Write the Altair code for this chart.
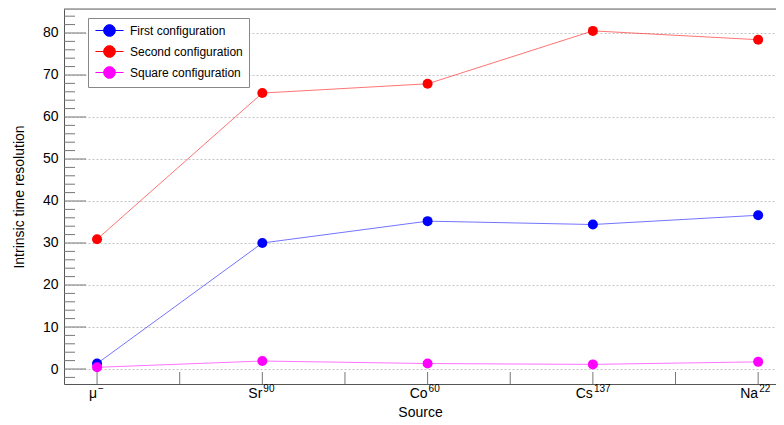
import altair as alt
import pandas as pd

source_base = ["μ", "Sr", "Co", "Cs", "Na"]
source_sup = ["−", "90", "60", "137", "22"]
series_names = ["First configuration", "Second configuration", "Square configuration"]
first = [1.3, 30.0, 35.2, 34.4, 36.6]
second = [30.9, 65.7, 67.9, 80.5, 78.4]
square = [0.4, 1.9, 1.3, 1.1, 1.7]
colors = ["#0000ff", "#ff0000", "#ff00ff"]

y_major = [0, 10, 20, 30, 40, 50, 60, 70, 80]
y_minor = [v for v in range(-2, 86, 2) if v % 10 != 0]
x_ticks = [0, 0.5, 1, 1.5, 2, 2.5, 3, 3.5, 4]

rows = []
for name, vals in zip(series_names, [first, second, square]):
    for i, v in enumerate(vals):
        rows.append({"idx": i, "value": v, "series": name})
df = pd.DataFrame(rows)
labels_df = pd.DataFrame({"idx": list(range(len(source_base))), "base": source_base,
                          "sup": source_sup})

W, H = 712, 375
FONT = "Liberation Sans"
xscale = alt.Scale(domain=[-0.2, 4.108], nice=False, zero=False)
yscale = alt.Scale(domain=[-3.57, 85.71], nice=False, zero=False)

color = alt.Color(
    "series:N",
    scale=alt.Scale(domain=series_names, range=colors),
    legend=alt.Legend(
        title=None, orient="none", legendX=24, legendY=9,
        strokeColor="#888", fillColor="white", padding=6,
        symbolType="M-2.4,0L2.4,0M1,0A1,1,0,1,1,-1,0A1,1,0,1,1,1,0Z",
        symbolSize=137, symbolStrokeWidth=1, symbolOpacity=1, symbolOffset=9,
        labelFont=FONT, labelFontSize=12, labelColor="#000",
        labelOffset=14, rowPadding=4,
    ),
)

x_enc = alt.X(
    "idx:Q", scale=xscale,
    axis=alt.Axis(values=[0, 1, 2, 3, 4], labels=False, title="Source",
                  ticks=False, grid=False, domainColor="#555",
                  titleFont=FONT, titleFontSize=14, titleFontWeight="normal",
                  titleColor="#000", titlePadding=21),
)
y_enc = alt.Y(
    "value:Q", scale=yscale,
    axis=alt.Axis(values=y_major, title="Intrinsic time resolution", ticks=False,
                  grid=True, gridDash=[2, 2], gridColor="#c4c4c4", domainColor="#555",
                  labelFont=FONT, labelFontSize=14, labelColor="#000",
                  labelPadding=6, titleFont=FONT, titleFontSize=14,
                  titleFontWeight="normal", titleColor="#000", titlePadding=16),
)

base = alt.Chart(df)
lines = base.mark_line(strokeWidth=1, opacity=0.55).encode(x=x_enc, y=y_enc, color=color,
                                                             order="idx:Q")
points = base.mark_circle(size=100, opacity=1).encode(x="idx:Q", y="value:Q", color=color)

ymaj = alt.Chart(pd.DataFrame({"v": y_major})).mark_rule(color="#777", strokeWidth=1).encode(
    y=alt.Y("v:Q", scale=yscale), x=alt.value(0), x2=alt.value(22))
ymin = alt.Chart(pd.DataFrame({"v": y_minor})).mark_rule(color="#777", strokeWidth=1).encode(
    y=alt.Y("v:Q", scale=yscale), x=alt.value(0), x2=alt.value(11))
xt = alt.Chart(pd.DataFrame({"v": x_ticks})).mark_rule(color="#777", strokeWidth=1).encode(
    x=alt.X("v:Q", scale=xscale), y=alt.value(H), y2=alt.value(H - 12))
top = alt.Chart(pd.DataFrame({"v": [0]})).mark_rule(color="#666", strokeWidth=1).encode(
    x=alt.value(0), x2=alt.value(W), y=alt.value(0))

lab_base = alt.Chart(labels_df).mark_text(
    align="right", baseline="alphabetic", font=FONT, fontSize=14, color="#000", dx=0
).encode(x=alt.X("idx:Q", scale=xscale), y=alt.value(H + 14), text="base:N")
lab_sup = alt.Chart(labels_df).mark_text(
    align="left", baseline="alphabetic", font=FONT, fontSize=10, color="#000", dx=1
).encode(x=alt.X("idx:Q", scale=xscale), y=alt.value(H + 8), text="sup:N")

chart = alt.layer(ymaj, ymin, xt, top, lines, points, lab_base, lab_sup).properties(
    width=W, height=H,
    autosize=alt.AutoSizeParams(type="none"),
    padding={"left": 56, "top": 1, "right": 0, "bottom": 36},
).configure_view(strokeWidth=0).configure(background="white")

chart.save("out.html", embed_options={"renderer": "svg", "actions": False})
